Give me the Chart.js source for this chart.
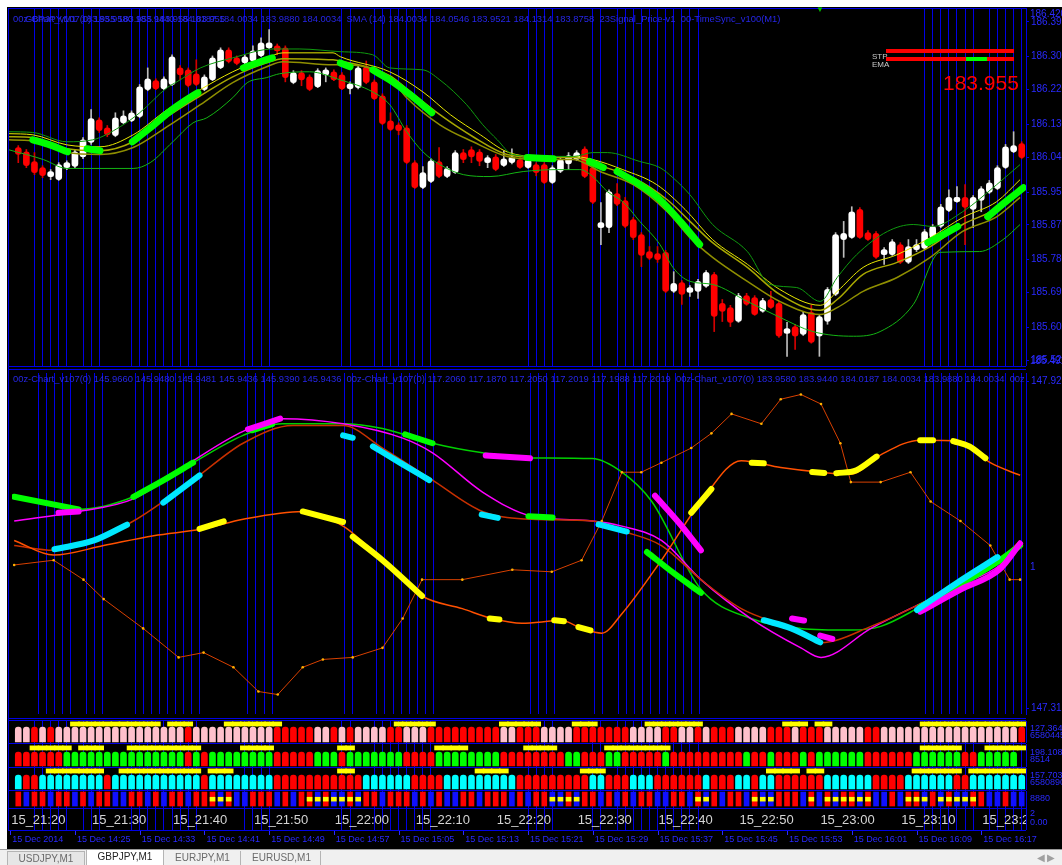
<!DOCTYPE html>
<html>
<head>
<meta charset="utf-8">
<title>GBPJPY,M1</title>
<script src="https://cdn.jsdelivr.net/npm/chart.js@4.4.1/dist/chart.umd.min.js"></script>
<style>
  html, body { margin: 0; padding: 0; background: #fff; }
  body { position: relative; width: 1062px; height: 865px; overflow: hidden; font-family: "Liberation Sans", Arial, sans-serif; }
  #board { position: absolute; left: 7px; top: 7px; width: 1055px; height: 842px; background: #000; }
  .pane { position: absolute; left: 8px; width: 1054px; }
  .hl { position: absolute; left: 8px; width: 1018px; height: 1px; background: #0000e6; }
  .vl { position: absolute; width: 1px; background: #0000e6; }
  .t { position: absolute; white-space: pre; line-height: 1; }
  .hdr { color: #2626e8; font-size: 9.4px; }
  .ax { color: #2a2aff; font-size: 10px; left: 1030px; }
  .axs { color: #2a2aff; font-size: 9px; left: 1030px; }
  #syncRow { position: absolute; left: 8px; top: 810px; width: 1018px; height: 20px; overflow: hidden; }
  .sync { position: absolute; top: 2px; color: #d4d4d4; font-size: 13px; white-space: pre; }
  .date { position: absolute; top: 834px; color: #2a2aff; font-size: 9px; white-space: pre; }
  .dtick { position: absolute; top: 831px; width: 1px; height: 4px; background: #2a2aff; }
  #tabbar { position: absolute; left: 0; top: 849px; width: 1062px; height: 16px; background: #f0f0f0; border-top: 1px solid #9a9a9a; }
  .tab { position: absolute; top: 1px; height: 14px; font-size: 10px; line-height: 14px; color: #6a6a6a; text-align: center; }
</style>
</head>
<body>
<div id="board"></div>

<div class="pane" style="top:8px;height:358px"><canvas id="cMain"></canvas></div>
<div class="pane" style="top:369px;height:349px"><canvas id="cOsc"></canvas></div>
<div class="pane" style="top:721px;height:22px"><canvas id="cRow1"></canvas></div>
<div class="pane" style="top:744px;height:23px"><canvas id="cRow2"></canvas></div>
<div class="pane" style="top:768px;height:22px"><canvas id="cRow3"></canvas></div>
<div class="pane" style="top:791px;height:39px"><canvas id="cRow4"></canvas></div>

<div class="hl" style="top:8px"></div>
<div class="hl" style="top:366px"></div>
<div class="hl" style="top:369px"></div>
<div class="hl" style="top:718px"></div>
<div class="hl" style="top:720px"></div>
<div class="hl" style="top:743px"></div>
<div class="hl" style="top:767px"></div>
<div class="hl" style="top:790px"></div>
<div class="hl" style="top:808px"></div>
<div class="hl" style="top:830px"></div>
<div class="vl" style="left:8px;top:8px;height:822px"></div>

<div id="syncRow"></div>
<div id="labels"></div>

<div id="tabbar">
  <div class="tab" style="left:7px;width:76px;border:1px solid #b4b4b4;background:#e6e6e6;">USDJPY,M1</div>
  <div class="tab" style="left:86px;width:76px;top:0;height:15px;border:1px solid #b4b4b4;border-top:none;background:#fff;color:#222;">GBPJPY,M1</div>
  <div class="tab" style="left:165px;width:75px;border-right:1px solid #b4b4b4;">EURJPY,M1</div>
  <div class="tab" style="left:243px;width:77px;border-right:1px solid #b4b4b4;">EURUSD,M1</div>
  <div class="tab" style="left:1032px;width:28px;color:#a0a0a0;">&#9664; &#9654;</div>
</div>

<script>
// ---- price candles (GBPJPY M1) ----
const candleOpen = [
  186.070,186.059,186.034,186.018,185.995,185.987,186.018,186.021,186.046,186.083,
  186.142,186.121,186.101,186.134,186.139,186.150,186.220,186.243,186.222,186.233,
  186.276,186.271,186.261,186.220,186.245,186.276,186.323,186.302,186.289,186.294,
  186.307,186.328,186.333,186.328,186.238,186.264,186.253,186.227,186.258,186.266,
  186.258,186.222,186.225,186.279,186.240,186.204,186.139,186.129,186.121,186.031,
  185.966,185.982,186.034,185.995,186.005,186.057,186.065,186.059,186.031,186.046,
  186.023,186.031,186.039,186.018,186.026,186.026,185.979,186.008,186.028,186.039,
  186.067,186.018,185.863,185.863,185.951,185.933,185.884,185.845,185.801,185.796,
  185.799,185.698,185.721,185.695,185.698,185.711,185.742,185.667,185.656,185.620,
  185.687,185.682,185.646,185.677,185.667,185.589,185.607,185.587,185.644,185.582,
  185.620,185.690,185.832,185.837,185.910,185.850,185.848,185.793,185.793,185.819,
  185.773,185.806,185.809,185.837,185.866,185.907,185.930,185.941,185.910,185.933,
  185.954,185.964,186.018,186.059,186.080
];
const candleClose = [
  186.052,186.023,186.005,185.997,186.008,186.026,186.031,186.059,186.090,186.145,
  186.114,186.103,186.147,186.152,186.160,186.227,186.248,186.222,186.248,186.305,
  186.258,186.230,186.233,186.253,186.302,186.323,186.292,186.287,186.305,186.320,
  186.341,186.341,186.320,186.251,186.264,186.245,186.220,186.269,186.271,186.245,
  186.222,186.235,186.276,186.238,186.196,186.132,186.116,186.114,186.031,185.966,
  186.005,186.036,185.995,186.016,186.057,186.039,186.046,186.034,186.044,186.013,
  186.041,186.046,186.018,186.039,186.005,185.979,186.018,186.039,186.049,186.057,
  185.995,185.928,185.876,185.956,185.923,185.866,185.837,185.791,185.783,185.780,
  185.698,185.719,185.690,185.708,185.724,185.747,185.633,185.646,185.618,185.687,
  185.664,185.638,185.675,185.656,185.582,185.602,185.582,185.638,185.566,185.633,
  185.703,185.845,185.848,185.904,185.837,185.832,185.786,185.806,185.827,185.773,
  185.814,185.819,185.853,185.866,185.917,185.941,185.941,185.915,185.941,185.964,
  185.979,186.018,186.072,186.075,186.044
];
const candleHigh = [
  186.075,186.065,186.057,186.023,186.013,186.031,186.036,186.065,186.096,186.168,
  186.147,186.127,186.160,186.165,186.165,186.233,186.276,186.248,186.253,186.310,
  186.282,186.276,186.297,186.258,186.307,186.328,186.328,186.307,186.310,186.333,
  186.354,186.375,186.338,186.333,186.269,186.269,186.258,186.274,186.276,186.271,
  186.264,186.240,186.282,186.294,186.245,186.209,186.160,186.134,186.127,186.036,
  186.021,186.041,186.070,186.021,186.062,186.065,186.072,186.065,186.049,186.052,
  186.062,186.067,186.044,186.044,186.031,186.031,186.023,186.044,186.057,186.062,
  186.072,186.023,185.928,185.961,185.977,185.941,185.889,185.850,185.814,185.814,
  185.804,185.749,185.726,185.713,185.729,185.752,185.747,185.677,185.662,185.693,
  185.693,185.687,185.680,185.698,185.672,185.618,185.613,185.644,185.662,185.638,
  185.708,185.850,185.879,185.917,185.915,185.855,185.853,185.811,185.832,185.824,
  185.832,185.832,185.858,185.871,185.923,185.961,185.969,185.974,185.946,185.969,
  185.985,186.023,186.078,186.111,186.085
];
const candleLow = [
  186.031,186.018,186.000,185.992,185.987,185.985,186.013,186.018,186.041,186.078,
  186.109,186.098,186.098,186.132,186.137,186.147,186.217,186.220,186.220,186.230,
  186.245,186.227,186.230,186.217,186.243,186.274,186.289,186.284,186.287,186.292,
  186.305,186.326,186.310,186.240,186.235,186.230,186.217,186.225,186.240,186.243,
  186.220,186.209,186.222,186.235,186.194,186.129,186.114,186.103,186.028,185.964,
  185.964,185.979,185.992,185.992,186.003,186.031,186.031,186.023,186.018,186.010,
  186.021,186.028,186.016,186.016,185.997,185.977,185.977,186.005,186.013,186.036,
  185.992,185.925,185.819,185.850,185.920,185.863,185.832,185.762,185.780,185.773,
  185.695,185.695,185.664,185.685,185.680,185.708,185.594,185.620,185.607,185.618,
  185.662,185.636,185.644,185.654,185.579,185.530,185.548,185.584,185.564,185.530,
  185.613,185.687,185.786,185.835,185.835,185.830,185.783,185.768,185.791,185.770,
  185.770,185.801,185.806,185.835,185.863,185.904,185.928,185.819,185.863,185.904,
  185.951,185.961,186.016,186.057,186.041
];

// ---- main panel indicator lines [bar index, price] ----
const bandUpper = [[-1.3,186.111],[1.8,186.109],[6.0,186.085],[9.2,186.090],[12.6,186.124],[15.0,186.160],[18.4,186.225],[19.6,186.240],[22.5,186.276],[26.5,186.302],[31.5,186.325],[34.8,186.325],[39.8,186.318],[43.8,186.310],[45.9,186.276],[50.0,186.271],[52.1,186.245],[55.4,186.181],[57.4,186.129],[59.2,186.090],[61.1,186.052],[64.5,186.047],[68.6,186.047],[71.0,186.057],[72.8,186.057],[76.8,186.034],[79.3,186.018],[80.9,185.992],[83.0,185.948],[85.8,185.871],[90.1,185.801],[92.9,185.716],[96.2,185.708],[99.1,185.672],[101.2,185.734],[103.6,185.793],[107.4,185.853],[110.6,185.871],[113.0,185.866],[116.7,185.904],[120.9,185.974],[123.8,186.026]];
const ribbonTop = [[-1.3,186.106],[1.8,186.103],[6.0,186.077],[10.1,186.072],[14.2,186.103],[18.4,186.168],[22.5,186.220],[26.5,186.266],[30.7,186.302],[32.7,186.315],[38.9,186.315],[39.8,186.305],[45.9,186.266],[50.0,186.214],[53.4,186.155],[57.1,186.103],[60.4,186.059],[64.5,186.047],[68.6,186.047],[71.0,186.039],[74.7,186.013],[78.9,185.974],[82.4,185.910],[85.8,185.832],[90.1,185.768],[94.1,185.703],[99.1,185.662],[101.2,185.698],[104.4,185.760],[108.6,185.793],[112.7,185.837],[116.7,185.889],[120.9,185.930],[123.8,185.987]];
const ribbonMid = [[-1.3,186.098],[1.8,186.096],[6.0,186.067],[10.1,186.062],[14.2,186.085],[18.4,186.150],[22.5,186.204],[26.5,186.253],[30.7,186.289],[32.7,186.300],[38.9,186.297],[39.8,186.294],[45.9,186.256],[48.0,186.222],[52.1,186.155],[56.2,186.098],[60.4,186.052],[64.5,186.044],[68.6,186.044],[71.9,186.023],[76.0,185.992],[80.2,185.935],[83.0,185.879],[85.8,185.824],[90.1,185.760],[94.1,185.690],[99.1,185.649],[101.2,185.677],[104.4,185.742],[108.6,185.773],[112.7,185.814],[116.7,185.871],[120.9,185.912],[123.8,185.961]];
const ribbonLow = [[-1.3,186.090],[1.8,186.088],[6.0,186.057],[10.1,186.052],[14.2,186.070],[18.4,186.124],[22.5,186.181],[26.5,186.238],[30.7,186.279],[32.7,186.292],[38.9,186.284],[39.8,186.284],[45.9,186.251],[48.0,186.199],[52.1,186.129],[56.2,186.085],[60.4,186.047],[64.5,186.039],[68.6,186.039],[71.9,186.008],[76.0,185.974],[80.2,185.904],[83.0,185.837],[85.8,185.786],[90.1,185.724],[94.1,185.672],[99.1,185.638],[101.2,185.656],[104.4,185.698],[108.6,185.734],[112.7,185.786],[116.7,185.853],[120.9,185.891],[123.8,185.941]];
const bandLower = [[-1.3,186.065],[3.1,186.039],[6.0,186.016],[14.2,186.016],[16.3,186.031],[19.1,186.085],[21.6,186.134],[23.3,186.147],[26.5,186.199],[28.3,186.238],[30.7,186.251],[32.3,186.261],[36.0,186.266],[39.8,186.245],[43.8,186.214],[45.9,186.181],[48.0,186.111],[50.0,186.059],[52.1,186.026],[55.0,186.000],[58.3,185.995],[62.4,186.008],[66.6,186.013],[69.4,186.013],[71.0,185.995],[72.8,185.956],[74.7,185.930],[76.8,185.879],[79.3,185.819],[80.9,185.760],[83.0,185.724],[85.8,185.716],[90.1,185.672],[94.1,185.631],[98.2,185.594],[103.2,185.582],[106.5,185.594],[110.6,185.664],[113.9,185.799],[118.8,185.801],[121.7,185.832],[123.8,185.871]];
const smaSegments = [
  [[1.8,186.090],[3.9,186.077],[6.1,186.059]],
  [[8.5,186.067],[10.1,186.062]],
  [[14.1,186.085],[16.3,186.121],[18.7,186.163],[20.6,186.191],[22.2,186.212]],
  [[27.8,186.276],[29.9,186.292],[31.4,186.302]],
  [[39.8,186.289],[41.0,186.279]],
  [[43.8,186.271],[45.9,186.245],[48.4,186.207],[51.1,186.160]],
  [[62.9,186.044],[66.1,186.041]],
  [[70.6,186.034],[72.3,186.018]],
  [[74.0,186.008],[76.8,185.974],[79.3,185.935],[81.8,185.879],[84.2,185.819]],
  [[112.4,185.824],[114.3,185.845],[116.1,185.866]],
  [[119.8,185.891],[121.9,185.928],[124.2,185.966]]
];

// ---- oscillator sub-window [bar index, value 0..100] ----
const oscGreen = [[-1,63.7],[7,60.0],[13.8,63.7],[21.2,73.7],[27.4,81.7],[32.3,85.1],[39.8,85.1],[44.7,83.7],[50.9,79.4],[57.1,76.6],[63.2,75.1],[70.7,74.9],[74.4,70.9],[78.1,62.3],[84.2,36.6],[90.4,28.0],[96.6,25.1],[102.8,24.6],[106.5,25.7],[111.4,31.4],[116.4,38.0],[121.3,45.1],[123.8,49.4]];
const oscMagenta = [[-1,56.6],[7,59.4],[13.8,63.1],[21.2,74.3],[27.4,82.9],[32.3,86.6],[39.8,85.1],[47.2,80.9],[50.9,76.6],[57.1,65.1],[63.2,58.0],[70.7,56.6],[74.4,55.1],[79.3,50.9],[84.2,39.4],[90.4,28.0],[96.6,19.4],[99.1,16.6],[105.3,25.1],[111.4,32.3],[116.4,38.0],[121.3,43.7],[123.8,50.9]];
const oscRed = [[-1,49.4],[3.9,48.0],[8.9,50.9],[13.8,56.6],[21.2,68.6],[27.4,79.4],[33.6,84.6],[39.8,84.6],[44.7,78.0],[50.9,68.6],[57.1,59.4],[63.2,57.1],[70.7,56.6],[74.4,53.7],[79.3,49.4],[84.2,39.4],[89.2,30.9],[95.4,25.1],[99.1,20.9],[105.3,25.7],[111.4,32.3],[121.3,45.1],[123.8,50.9]];
const oscOrange = [[-1,50.9],[3.9,46.6],[10.1,49.4],[16.3,52.3],[22.5,54.3],[27.4,57.1],[34.8,59.4],[39.8,55.1],[44.7,45.1],[49.6,34.6],[54.6,30.9],[58.3,28.0],[62.0,26.6],[66.9,27.4],[69.4,25.1],[71.9,23.7],[74.4,29.4],[79.3,45.1],[84.2,62.3],[89.2,74.3],[94.1,72.3],[99.1,70.9],[102.8,70.3],[106.5,76.0],[111.4,80.3],[116.4,80.0],[120.1,73.7],[123.8,70.0]];
const oscDotted = [[-1,43.7],[3.9,45.1],[7.6,39.4],[10.1,33.7],[15.0,25.1],[19.4,16.6],[22.5,18.0],[26.2,13.7],[29.3,6.6],[31.7,5.7],[34.8,13.7],[37.3,16.0],[41.0,16.6],[44.7,19.4],[47.2,28.0],[49.6,39.4],[54.6,39.4],[60.8,42.3],[65.7,41.7],[69.4,45.1],[71.9,56.6],[74.4,70.9],[76.8,70.9],[79.3,73.7],[83.0,78.0],[85.5,82.3],[88.0,88.0],[91.7,85.1],[94.1,92.3],[96.6,93.7],[99.1,90.9],[101.5,79.4],[102.8,68.0],[106.5,68.0],[110.2,70.9],[112.7,62.3],[116.4,56.6],[120.1,49.4],[122.5,39.4],[123.8,39.4]];
const thickGreenSeg = [
  [[-1,63.7],[7,60.0]],
  [[13.8,63.7],[17.5,68.5],[21.2,73.7]],
  [[28.5,83.2],[31.0,85.0]],
  [[47.5,82.0],[50.9,79.4]],
  [[62.8,58.0],[65.8,57.6]],
  [[77.5,47.5],[81,41],[84.2,35.5]],
  [[111.4,31.4],[116.4,38.0],[121.3,45.1],[123.8,49.4]]
];
const thickMagentaSeg = [
  [[4.5,59.0],[7.0,59.4]],
  [[28.0,83.5],[32.0,86.6]],
  [[57.5,75.8],[63.0,75.0]],
  [[78.5,64.0],[81.5,56.0],[84.2,48.0]],
  [[95.5,28.0],[97.0,27.4]],
  [[99.0,23.0],[100.5,22.0]],
  [[111.4,30.0],[116.4,36.5],[121.3,42.5],[123.8,50.0]]
];
const thickCyanSeg = [
  [[4.0,48.3],[8.9,50.9],[13.0,55.5]],
  [[17.5,62.0],[22.0,70.0]],
  [[39.8,81.7],[41.0,81.0]],
  [[43.5,78.5],[47.0,73.5],[50.5,68.6]],
  [[57.0,58.5],[59.0,57.5]],
  [[71.5,55.6],[75.0,53.5]],
  [[92.0,27.5],[95.4,25.1],[99.0,21.0]],
  [[111.0,30.5],[116.0,38.5],[121.0,46.0]]
];
const thickYellowSeg = [
  [[22.0,54.3],[25.0,56.5]],
  [[34.8,59.4],[39.8,56.3]],
  [[41.0,52.0],[44.7,45.1],[49.6,34.6]],
  [[58.0,28.0],[59.2,27.7]],
  [[66.0,27.5],[67.2,27.2]],
  [[69.0,25.5],[70.5,24.5]],
  [[83.0,59.0],[85.5,66.0]],
  [[90.5,73.7],[92.0,73.5]],
  [[98.0,71.0],[99.5,70.7]],
  [[101.0,70.6],[103.5,71.5],[106.0,75.5]],
  [[111.4,80.3],[113.0,80.3]],
  [[115.5,80.0],[117.5,78.5],[119.5,75.0]]
];

// ---- signal strips (one letter per bar) ----
const row1Codes = "PPRPRPPPPPPPPPPPPPPPPRPPPPPPPPPPRRRRRPPRPRP" + "PPPRRPPPRRRRRRRRRPPRRRPPPPRRRRRRRPPPPRRPPR" + "PRRRPPPPRRRPRRRPPPPPRRPPPPPPPPPPPPPPPPPR";
const row2Codes = "RRRRRRGGGGGGGGGGGGGGGRGRGGGGGGGGRRRRRGGGRGG" + "GGGGGRRRRGGGGGGGGRRRRRRRRGGRRRGGRRRRRGRRRR" + "RRRRRGRRGRRRGRGGGGGGRRRRRRGGGGGGRRGGGGG";
const row3Codes = "CRRCCCCCCCCRCCCCCCCCCCCRCCCCCCCCRRRRRRRRRRR" + "CCCCCCRRRRCCCCCCCCCRRRRRRRRRCCRRRCCCRRRRRR" + "CRRRCCRCCRRRRRRCCCCCCRRRRCCCCCCRRCCCCCCC";
const row4Codes = "RBRRBRRBRBRRBBRRBRBRRBRRR" + "BRBBRRRBRBRRBRBBRBRRBRRRB" + "RBRBBRRBRRRBRBRRBBRBRRBRB" + "RBRRBBRRBRBRBRRBRBBRRRBRB" + "RBRRBRBBRBRRBRBRBBRRBBRBB";
const row1Marks = [[7,17],[19,21],[26,32],[47,51],[60,64],[69,71],[78,84],[95,97],[99,100],[112,124]];
const row2Marks = [[2,6],[8,10],[14,22],[28,31],[40,41],[52,55],[63,66],[73,80],[112,116],[120,124]];
const row3Marks = [[4,10],[13,17],[18,22],[24,26],[40,41],[57,60],[70,72],[93,96],[98,99],[111,116],[118,124]];
const row4Marks = [[24,26],[36,42],[66,69],[84,85],[91,93],[98,98],[100,105],[110,112],[114,118]];

// ---- axes ----
const blueLines = [2,3,4,5,6,8,9,10,14,15,16,17,18,19,20,21,22,28,29,30,31,40,41,44,45,46,47,48,49,50,51,63,64,65,66,71,72,74,75,76,77,78,79,80,81,82,83,84,112,113,114,115,116,117,118,120,121,122,123,124];
const priceTicks = [186.395, 186.305, 186.220, 186.130, 186.045, 185.955, 185.870, 185.780, 185.695, 185.605, 185.520];
const oscTicks = [147.925, 147.31];
const syncTickIdx = [-1, 9, 19, 29, 39, 49, 59, 69, 79, 89, 99, 109, 119];
const syncLabels = ['15_21:20','15_21:30','15_21:40','15_21:50','15_22:00','15_22:10','15_22:20','15_22:30','15_22:40','15_22:50','15_23:00','15_23:10','15_23:20'];
const dateTickIdx = [-1, 7, 15, 23, 31, 39, 47, 55, 63, 71, 79, 87, 95, 103, 111, 119];
const dateLabels = ['15 Dec 2014','15 Dec 14:25','15 Dec 14:33','15 Dec 14:41','15 Dec 14:49','15 Dec 14:57','15 Dec 15:05','15 Dec 15:13','15 Dec 15:21','15 Dec 15:29','15 Dec 15:37','15 Dec 15:45','15 Dec 15:53','15 Dec 16:01','15 Dec 16:09','15 Dec 16:17'];

Chart.defaults.font.family = '"Liberation Sans", Arial, sans-serif';
Chart.defaults.animation = false;
Chart.defaults.plugins.legend.display = false;
Chart.defaults.plugins.tooltip.enabled = false;

const BLUE = '#0000e6';
const STRIP = { P: '#ffc0cb', R: '#ff0000', G: '#00ff00', C: '#00ffff', B: '#1010ff' };

function xAxis() {
  return {
    type: 'linear', min: -1.27, max: 124.53, offset: false,
    afterBuildTicks: s => { s.ticks = blueLines.map(v => ({ value: v })); },
    afterFit: s => { s.height = 0; },
    ticks: { display: false },
    grid: { color: BLUE, lineWidth: 1, drawTicks: false, offset: false },
    border: { display: false }
  };
}

function rightAxis(min, max, ticks, fmt) {
  return {
    position: 'right', min, max,
    afterBuildTicks: s => { s.ticks = ticks.map(v => ({ value: v })); },
    afterFit: s => { s.width = 36; s.paddingTop = 0; s.paddingBottom = 0; },
    ticks: { display: ticks.length > 0, color: '#2a2aff', font: { size: 10 }, padding: 2, callback: fmt },
    grid: { drawOnChartArea: false, color: BLUE, tickLength: 3, display: ticks.length > 0 },
    border: { color: BLUE }
  };
}

function pts(arr) { return arr.map(p => ({ x: p[0], y: p[1] })); }

function line(data, color, width, extra) {
  return Object.assign({
    type: 'line', data: pts(data), borderColor: color, borderWidth: width,
    pointRadius: 0, cubicInterpolationMode: 'monotone', order: 1
  }, extra || {});
}

function thick(segs, color, width) {
  return segs.map(s => line(s, color, width, { borderCapStyle: 'round', borderJoinStyle: 'round', order: 0 }));
}

const baseOpts = (scales) => ({
  responsive: true, maintainAspectRatio: false, devicePixelRatio: 1,
  layout: { padding: 0 }, scales
});

// ---- main price window ----
const barIdx = candleOpen.map((_, i) => i);
const isUp = barIdx.map(i => candleClose[i] >= candleOpen[i]);

new Chart(document.getElementById('cMain'), {
  type: 'bar',
  data: {
    datasets: [
      {
        data: barIdx.map(i => ({ x: i, y: [candleLow[i], candleHigh[i]] })),
        backgroundColor: barIdx.map(i => isUp[i] ? '#bdbdbd' : '#d40000'),
        barThickness: 1, grouped: false, order: 20
      },
      {
        data: barIdx.map(i => ({ x: i, y: [candleOpen[i], candleClose[i]] })),
        backgroundColor: barIdx.map(i => isUp[i] ? '#ffffff' : '#ff0000'),
        barThickness: 6, grouped: false, borderRadius: 3, borderSkipped: false, minBarLength: 4, order: 19
      },
      line(bandUpper, '#0f9a0f', 1),
      line(bandLower, '#14b414', 1),
      line(ribbonLow, '#8f8f00', 1.5),
      line(ribbonMid, '#a8a800', 1.5),
      line(ribbonTop, '#e8e800', 1),
      ...thick(smaSegments, '#00ff00', 7)
    ]
  },
  options: baseOpts({
    x: xAxis(),
    y: rightAxis(185.505, 186.431, priceTicks, v => v.toFixed(3))
  })
});

// ---- oscillator window ----
new Chart(document.getElementById('cOsc'), {
  type: 'line',
  data: {
    datasets: [
      line(oscDotted, '#d84000', 1, { pointRadius: 1.3, pointBackgroundColor: '#ffb000', pointBorderWidth: 0, cubicInterpolationMode: 'default', tension: 0 }),
      line(oscOrange, '#ff5000', 1.5),
      line(oscRed, '#c83000', 1.5),
      line(oscMagenta, '#ff00ff', 1.5),
      line(oscGreen, '#00d000', 1.5),
      ...thick(thickYellowSeg, '#ffff00', 6),
      ...thick(thickCyanSeg, '#00e8ff', 6),
      ...thick(thickMagentaSeg, '#ff00ff', 6),
      ...thick(thickGreenSeg, '#00ff00', 6)
    ]
  },
  options: baseOpts({
    x: xAxis(),
    y: { display: false, min: 0, max: 100 },
    yl: rightAxis(147.2996, 147.9403, oscTicks, v => String(v))
  })
});

// ---- strip rows ----
function expand(marks) {
  const out = [];
  marks.forEach(([a, b]) => { for (let i = a; i <= b; i++) out.push(i); });
  return out;
}

function stripChart(id, codes, marks, block, mark, markThick, blockThick, radius) {
  const n = Math.min(codes.length, candleOpen.length);
  const idx = barIdx.slice(0, n);
  return new Chart(document.getElementById(id), {
    type: 'bar',
    data: {
      datasets: [
        {
          data: idx.map(i => ({ x: i, y: block })),
          backgroundColor: idx.map(i => STRIP[codes[i]]),
          barThickness: blockThick, grouped: false, borderSkipped: false, order: 2,
          borderRadius: { topLeft: radius, topRight: radius, bottomLeft: 0, bottomRight: 0 }
        },
        {
          data: expand(marks).map(i => ({ x: i, y: mark })),
          backgroundColor: '#ffff00', barThickness: markThick, grouped: false, borderSkipped: false, order: 1
        }
      ]
    },
    options: baseOpts({
      x: xAxis(),
      y: rightAxis(0, 1, [], v => '')
    })
  });
}

stripChart('cRow1', row1Codes, row1Marks, [0.05, 0.72], [0.77, 0.96], 9, 6, 3);
stripChart('cRow2', row2Codes, row2Marks, [0.05, 0.65], [0.74, 0.92], 9, 6, 3);
stripChart('cRow3', row3Codes, row3Marks, [0.05, 0.68], [0.77, 0.96], 9, 6, 3);
const row4 = stripChart('cRow4', row4Codes, row4Marks, [0.615, 0.974], [0.74, 0.84], 5, 5, 0);

// ---- text: headers, axis extras, time rows ----
const labels = document.getElementById('labels');
function addText(cls, text, left, top, style) {
  const d = document.createElement('div');
  d.className = 't ' + cls;
  d.textContent = text;
  d.style.left = left + 'px';
  d.style.top = top + 'px';
  if (style) d.style.cssText += style;
  labels.appendChild(d);
  return d;
}

addText('hdr', '00z-Chart_v107(0) 183.9580 183.9440 184.0187 184.0034 183.9880 184.0034  SMA (14) 184.0034 184.0546 183.9521 184.1314 183.8758  23Signal_Price-v1  00-TimeSync_v100(M1)', 13, 14);
addText('hdr', 'GBPJPY,M1  183.955 183.955 183.955 183.955', 25, 14);
addText('hdr', '00z-Chart_v107(0) 145.9660 145.9480 145.9481 145.9436 145.9390 145.9436  00z-Chart_v107(0) 117.2060 117.1870 117.2050 117.2019 117.1988 117.2019  00z-Chart_v107(0) 183.9580 183.9440 184.0187 184.0034 183.9880 184.0034  00z', 13, 374);

addText('ax', '186.420', 1030, 9);
addText('ax', '185.491', 1030, 356);
addText('ax', '1', 1030, 562);
[['127.364', 724], ['6580445', 731], ['198.108', 748], ['8514', 755], ['157.703', 771], ['6580890', 778], ['8880', 794], ['2', 809], ['0.00', 818]]
  .forEach(([s, y]) => addText('axs', s, 1030, y));

// STP / EMA status widget
addText('', 'STP', 872, 53, 'color:#c8c8c8;font-size:8px;');
addText('', 'EMA', 872, 61, 'color:#c8c8c8;font-size:8px;');
addText('', '', 886, 49, 'width:128px;height:4px;background:#ff0000;');
addText('', '', 886, 57, 'width:128px;height:4px;background:#ff0000;');
addText('', '', 966, 57, 'width:21px;height:4px;background:#00ff00;');
addText('', '183.955', 943, 72, 'color:#ff0000;font-size:21px;');
addText('', '\u25BC', 816, 6, 'color:#00c000;font-size:8px;');

// time-sync labels and date axis, placed with the strip chart's own x scale
const xs = row4.scales.x;
const syncRow = document.getElementById('syncRow');
syncTickIdx.forEach((v, k) => {
  const d = document.createElement('div');
  d.className = 'sync';
  d.textContent = syncLabels[k];
  d.style.left = (xs.getPixelForValue(v) + 1) + 'px';
  syncRow.appendChild(d);
});
dateTickIdx.forEach((v, k) => {
  const px = 8 + xs.getPixelForValue(v);
  const tk = document.createElement('div');
  tk.className = 'dtick';
  tk.style.left = px + 'px';
  labels.appendChild(tk);
  const d = document.createElement('div');
  d.className = 'date';
  d.textContent = dateLabels[k];
  d.style.left = (px + 2) + 'px';
  labels.appendChild(d);
});
</script>
</body>
</html>
